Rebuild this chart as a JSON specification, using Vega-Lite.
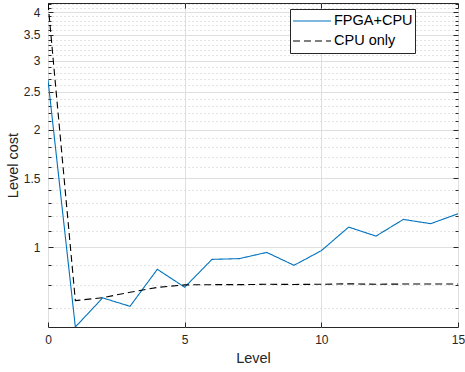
{
  "$schema": "https://vega.github.io/schema/vega-lite/v6.json",
  "width": 410,
  "height": 324,
  "autosize": {"type": "none"},
  "padding": {"left": 48, "top": 3, "right": 7, "bottom": 45},
  "background": "white",
  "config": {
    "font": "Liberation Sans",
    "view": {"stroke": "#262626", "strokeWidth": 1},
    "axis": {"labelColor": "#262626", "titleColor": "#262626", "labelFontSize": 12, "titleFontSize": 14.5, "titleFontWeight": "normal", "domain": false, "tickColor": "#262626"}
  },
  "resolve": {"axis": {"x": "independent", "y": "independent"}},
  "data": {"values": [
    {"Level": 0, "cost": 2.68, "series": "FPGA+CPU"},
    {"Level": 1, "cost": 0.624, "series": "FPGA+CPU"},
    {"Level": 2, "cost": 0.741, "series": "FPGA+CPU"},
    {"Level": 3, "cost": 0.705, "series": "FPGA+CPU"},
    {"Level": 4, "cost": 0.877, "series": "FPGA+CPU"},
    {"Level": 5, "cost": 0.789, "series": "FPGA+CPU"},
    {"Level": 6, "cost": 0.930, "series": "FPGA+CPU"},
    {"Level": 7, "cost": 0.934, "series": "FPGA+CPU"},
    {"Level": 8, "cost": 0.969, "series": "FPGA+CPU"},
    {"Level": 9, "cost": 0.898, "series": "FPGA+CPU"},
    {"Level": 10, "cost": 0.979, "series": "FPGA+CPU"},
    {"Level": 11, "cost": 1.125, "series": "FPGA+CPU"},
    {"Level": 12, "cost": 1.067, "series": "FPGA+CPU"},
    {"Level": 13, "cost": 1.177, "series": "FPGA+CPU"},
    {"Level": 14, "cost": 1.148, "series": "FPGA+CPU"},
    {"Level": 15, "cost": 1.217, "series": "FPGA+CPU"},
    {"Level": 0, "cost": 4.22, "series": "CPU only"},
    {"Level": 1, "cost": 0.729, "series": "CPU only"},
    {"Level": 2, "cost": 0.742, "series": "CPU only"},
    {"Level": 3, "cost": 0.766, "series": "CPU only"},
    {"Level": 4, "cost": 0.788, "series": "CPU only"},
    {"Level": 5, "cost": 0.800, "series": "CPU only"},
    {"Level": 6, "cost": 0.801, "series": "CPU only"},
    {"Level": 7, "cost": 0.801, "series": "CPU only"},
    {"Level": 8, "cost": 0.803, "series": "CPU only"},
    {"Level": 9, "cost": 0.802, "series": "CPU only"},
    {"Level": 10, "cost": 0.803, "series": "CPU only"},
    {"Level": 11, "cost": 0.805, "series": "CPU only"},
    {"Level": 12, "cost": 0.803, "series": "CPU only"},
    {"Level": 13, "cost": 0.804, "series": "CPU only"},
    {"Level": 14, "cost": 0.804, "series": "CPU only"},
    {"Level": 15, "cost": 0.804, "series": "CPU only"}
  ]},
  "layer": [
    {
      "mark": {"type": "line", "strokeWidth": 1.1, "clip": true},
      "encoding": {
        "x": {"field": "Level", "type": "quantitative", "scale": {"domain": [0, 15], "nice": false},
          "axis": {"orient": "bottom", "title": "Level", "values": [0, 5, 10, 15], "grid": true, "gridColor": "#dfdfdf", "tickSize": -5, "labelPadding": 12, "titlePadding": 6, "labelFlush": false}},
        "y": {"field": "cost", "type": "quantitative", "scale": {"type": "log", "domain": [0.624, 4.22], "nice": false, "zero": false},
          "axis": {"orient": "left", "title": "Level cost", "values": [0.7,0.8,0.9,1,1.1,1.2,1.3,1.4,1.5,1.6,1.7,1.8,1.9,2,2.1,2.2,2.3,2.4,2.5,2.6,2.7,2.8,2.9,3,3.1,3.2,3.3,3.4,3.5,3.6,3.7,3.8,3.9,4,4.1,4.2],
            "labelExpr": "indexof([1,1.5,2,2.5,3,3.5,4], datum.value) >= 0 ? datum.label : ''",
            "grid": true,
            "gridColor": {"condition": {"test": "indexof([1,1.5,2,2.5,3,3.5,4], datum.value) >= 0", "value": "#dfdfdf"}, "value": "#c8c8c8"},
            "gridDash": {"condition": {"test": "indexof([1,1.5,2,2.5,3,3.5,4], datum.value) >= 0", "value": []}, "value": [1, 3]},
            "tickSize": {"condition": {"test": "indexof([1,1.5,2,2.5,3,3.5,4], datum.value) >= 0", "value": -5}, "value": -3},
            "labelPadding": 13, "titlePadding": 3, "labelFlush": false, "labelOverlap": false}},
        "color": {"field": "series", "type": "nominal", "scale": {"domain": ["FPGA+CPU", "CPU only"], "range": ["#0072BD", "#000000"]},
          "legend": {"title": null, "orient": "none", "legendX": 242, "legendY": 6, "symbolType": "stroke", "symbolSize": 1444, "symbolStrokeWidth": 1.2, "clipHeight": 20, "labelFontSize": 14.5, "labelColor": "#000000", "labelOffset": 2, "rowPadding": 0, "padding": 2, "strokeColor": "#262626", "fillColor": "white", "cornerRadius": 0}},
        "strokeDash": {"field": "series", "type": "nominal", "scale": {"domain": ["FPGA+CPU", "CPU only"], "range": [[1, 0], [7, 4]]}, "legend": null}
      }
    },
    {
      "mark": {"type": "line", "strokeOpacity": 0, "clip": true},
      "encoding": {
        "x": {"field": "Level", "type": "quantitative", "axis": {"orient": "top", "title": null, "labels": false, "grid": false, "values": [0, 5, 10, 15], "tickSize": -5}},
        "y": {"field": "cost", "type": "quantitative", "axis": {"orient": "right", "title": null, "labels": false, "grid": false,
          "values": [0.7,0.8,0.9,1,1.1,1.2,1.3,1.4,1.5,1.6,1.7,1.8,1.9,2,2.1,2.2,2.3,2.4,2.5,2.6,2.7,2.8,2.9,3,3.1,3.2,3.3,3.4,3.5,3.6,3.7,3.8,3.9,4,4.1,4.2],
          "tickSize": {"condition": {"test": "indexof([1,1.5,2,2.5,3,3.5,4], datum.value) >= 0", "value": -5}, "value": -3}}},
        "detail": {"field": "series", "type": "nominal"}
      }
    }
  ]
}
